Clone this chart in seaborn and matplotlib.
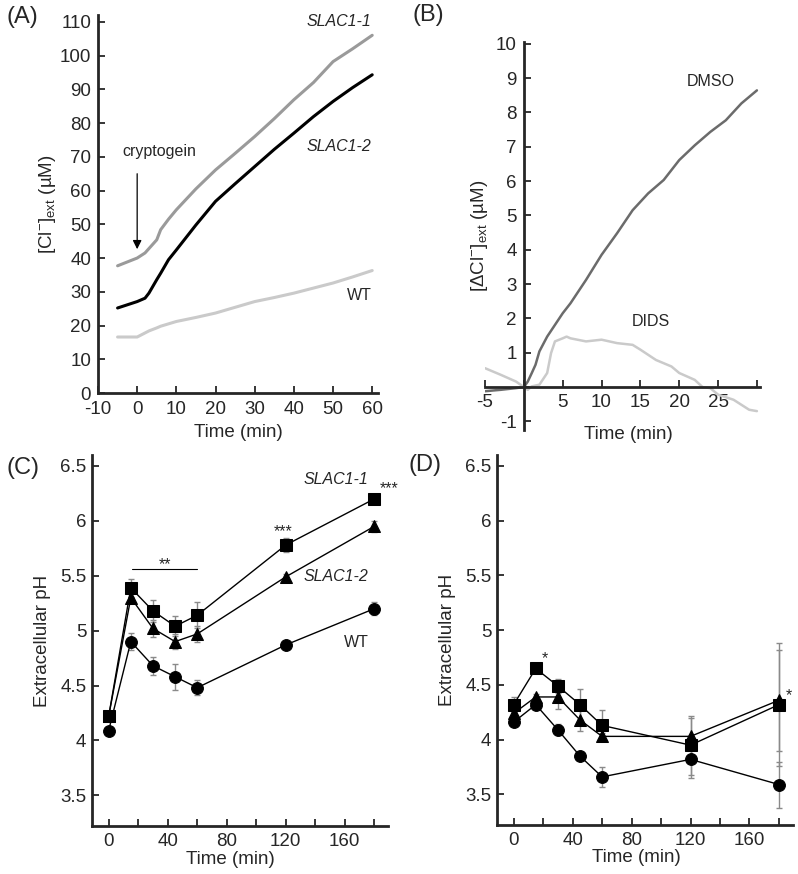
import matplotlib
matplotlib.use("Agg")
import matplotlib.pyplot as plt
import seaborn as sns
import pandas as pd

# ---- panel A: [Cl-]ext traces
a_time = [-5, 0, 2, 3, 5, 6, 8, 10, 15, 20, 25, 30, 35, 40, 45, 50, 55, 60]
a_slac1_1 = [37.7, 40.0, 41.5, 42.8, 45.4, 48.4, 51.5, 54.3, 60.5, 66.1, 71.0, 76.0, 81.3, 86.9, 92.0, 98.2, 102.0, 106.0]
a_slac1_2 = [25.2, 27.1, 28.1, 29.6, 33.6, 35.5, 39.5, 42.4, 49.8, 56.8, 62.0, 67.1, 72.2, 77.0, 81.9, 86.4, 90.5, 94.3]
a_wt = [16.6, 16.6, 17.8, 18.4, 19.3, 19.8, 20.5, 21.2, 22.4, 23.7, 25.4, 27.1, 28.3, 29.6, 31.1, 32.6, 34.4, 36.3]

# ---- panel B: delta [Cl-]ext
b_dmso_t = [-5, -3, -1, 0, 0.5, 1, 1.5, 2, 3, 4, 5, 6, 8, 10, 12, 14, 16, 18, 20, 22, 24, 26, 28, 30]
b_dmso = [-0.12, -0.08, -0.03, 0.0, 0.16, 0.40, 0.65, 1.04, 1.47, 1.81, 2.15, 2.44, 3.12, 3.85, 4.48, 5.15, 5.64, 6.03, 6.61, 7.04, 7.43, 7.77, 8.26, 8.64]
b_dids_t = [-5, -3, -1, 0, 0.5, 1, 2, 3, 3.5, 4, 5, 5.5, 6, 8, 10, 12, 14, 15, 17, 19, 20, 22, 23, 24, 25, 27, 29, 30]
b_dids = [0.55, 0.36, 0.16, 0.0, -0.08, 0.02, 0.07, 0.41, 0.99, 1.33, 1.42, 1.47, 1.42, 1.33, 1.38, 1.28, 1.23, 1.09, 0.79, 0.60, 0.41, 0.21, 0.0, -0.03, -0.22, -0.37, -0.66, -0.70]

# ---- panels C, D: extracellular pH
ph_time = [0, 15, 30, 45, 60, 120, 180]
c_slac1_1 = [4.22, 5.39, 5.18, 5.04, 5.14, 5.78, 6.20]
c_slac1_1_err = [0.0, 0.08, 0.10, 0.09, 0.12, 0.06, 0.03]
c_slac1_2 = [4.22, 5.30, 5.02, 4.90, 4.97, 5.49, 5.95]
c_slac1_2_err = [0.0, 0.05, 0.08, 0.07, 0.07, 0.03, 0.05]
c_wt = [4.09, 4.90, 4.68, 4.58, 4.48, 4.87, 5.20]
c_wt_err = [0.0, 0.08, 0.08, 0.12, 0.07, 0.02, 0.06]

d_slac1_1 = [4.32, 4.65, 4.49, 4.32, 4.13, 3.95, 4.32]
d_slac1_1_err = [0.07, 0.0, 0.06, 0.14, 0.14, 0.27, 0.56]
d_slac1_2 = [4.24, 4.39, 4.39, 4.18, 4.03, 4.03, 4.36]
d_slac1_2_err = [0.03, 0.03, 0.11, 0.10, 0.03, 0.17, 0.46]
d_wt = [4.16, 4.32, 4.09, 3.85, 3.66, 3.82, 3.59]
d_wt_err = [0.02, 0.04, 0.05, 0.02, 0.09, 0.17, 0.21]

sns.set_style("ticks")
plt.rcParams["font.family"] = ["Liberation Sans", "DejaVu Sans"]
plt.rcParams["mathtext.fontset"] = "custom"
plt.rcParams["mathtext.rm"] = "Liberation Sans"
plt.rcParams["mathtext.it"] = "Liberation Sans:italic"
plt.rcParams["axes.unicode_minus"] = False

fig = plt.figure(figsize=(7.98, 8.74), dpi=100)
axA = fig.add_axes([0.1228, 0.5503, 0.351, 0.4325])
axB = fig.add_axes([0.6078, 0.508, 0.3446, 0.444])
axC = fig.add_axes([0.1153, 0.0549, 0.3713, 0.4245])
axD = fig.add_axes([0.6228, 0.056, 0.3709, 0.4234])

TICK = 13.5
ANN = 11.5


def style_axis(ax, xpad=4, ypad=4):
    for s in ["top", "right"]:
        ax.spines[s].set_visible(False)
    for s in ["left", "bottom"]:
        ax.spines[s].set_linewidth(2.0)
    ax.tick_params(direction="in", length=5, width=1.3, labelsize=TICK, which="both")
    ax.tick_params(axis="x", pad=xpad)
    ax.tick_params(axis="y", pad=ypad)


# ---------- A
dfA = pd.DataFrame({"t": a_time * 3,
                    "v": a_slac1_1 + a_slac1_2 + a_wt,
                    "g": ["SLAC1-1"] * len(a_time) + ["SLAC1-2"] * len(a_time) + ["WT"] * len(a_time)})
sns.lineplot(data=dfA, x="t", y="v", hue="g", palette={"SLAC1-1": "#9a9a9a", "SLAC1-2": "black", "WT": "#cacaca"},
             linewidth=2.2, legend=False, ax=axA)
style_axis(axA, xpad=6, ypad=5)
axA.set_xlim(-10, 61.5)
axA.set_ylim(0, 112)
axA.set_xticks(range(-10, 61, 10))
axA.set_yticks(range(0, 111, 10))
axA.set_xlabel("Time (min)", fontsize=TICK)
axA.set_ylabel(r"[Cl$^{-}$]$_{\rm ext}$ (µM)", fontsize=TICK)
axA.yaxis.set_label_coords(-0.143, 0.5)
axA.text(51.4, 110, "SLAC1-1", style="italic", fontsize=ANN, ha="center", va="center")
axA.text(51.4, 73, "SLAC1-2", style="italic", fontsize=ANN, ha="center", va="center")
axA.text(56.6, 29, "WT", fontsize=ANN, ha="center", va="center")
axA.text(5.6, 71.6, "cryptogein", fontsize=ANN, ha="center", va="center")
axA.annotate("", xy=(0, 41.8), xytext=(0, 65.8),
             arrowprops=dict(arrowstyle="-|>", color="black", lw=0.9, mutation_scale=13))

# ---------- B
dfB = pd.DataFrame({"t": b_dmso_t + b_dids_t, "v": b_dmso + b_dids,
                    "g": ["DMSO"] * len(b_dmso_t) + ["DIDS"] * len(b_dids_t)})
sns.lineplot(data=dfB, x="t", y="v", hue="g", palette={"DMSO": "#6b6b6b", "DIDS": "#cacaca"},
             linewidth=1.8, legend=False, ax=axB)
style_axis(axB, xpad=5, ypad=5)
axB.spines["left"].set_position(("data", 0))
axB.spines["bottom"].set_position(("data", 0))
axB.set_xlim(-5, 30.4)
axB.set_ylim(-1.25, 10.05)
axB.set_xticks([-5, 0, 5, 10, 15, 20, 25, 30])
axB.set_xticklabels(["-5", "", "5", "10", "15", "20", "25", ""])
axB.set_yticks(range(-1, 11))
axB.set_yticklabels(["-1", ""] + [str(i) for i in range(1, 11)])
axB.set_xlabel("Time (min)", fontsize=TICK)
axB.xaxis.set_label_coords(0.52, 0.01)
axB.set_ylabel(r"[$\Delta$Cl$^{-}$]$_{\rm ext}$ (µM)", fontsize=TICK)
axB.yaxis.set_label_coords(0.018, 0.5)
axB.text(24, 8.9, "DMSO", fontsize=ANN, ha="center", va="center")
axB.text(16.3, 1.9, "DIDS", fontsize=ANN, ha="center", va="center")


# ---------- C, D
def ph_panel(ax, s1, e1, s2, e2, wt, ewt, xlab_x):
    n = len(ph_time)
    df = pd.DataFrame({"t": ph_time * 3, "v": wt + s2 + s1,
                       "g": ["WT"] * n + ["SLAC1-2"] * n + ["SLAC1-1"] * n})
    for vals, errs in [(wt, ewt), (s2, e2), (s1, e1)]:
        ax.errorbar(ph_time, vals, yerr=errs, fmt="none", ecolor="#8a8a8a", elinewidth=1.0, capsize=2.5, zorder=1)
    sns.lineplot(data=df, x="t", y="v", hue="g", style="g",
                 palette={"WT": "black", "SLAC1-2": "black", "SLAC1-1": "black"},
                 markers={"WT": "o", "SLAC1-2": "^", "SLAC1-1": "s"},
                 dashes=False, markersize=8.5, markeredgecolor="black", linewidth=1.0,
                 legend=False, ax=ax, zorder=3)
    style_axis(ax, xpad=5, ypad=4)
    ax.set_xlim(-11.3, 189.5)
    ax.set_ylim(3.22, 6.6)
    ax.set_xticks([0, 40, 80, 120, 160])
    ax.set_xticks([20, 60, 100, 140, 180], minor=True)
    ax.set_yticks([3.5, 4, 4.5, 5, 5.5, 6, 6.5])
    ax.set_yticklabels(["3.5", "4", "4.5", "5", "5.5", "6", "6.5"])
    ax.set_xlabel("Time (min)", fontsize=TICK)
    ax.xaxis.set_label_coords(xlab_x, -0.066)
    ax.set_ylabel("Extracellular pH", fontsize=TICK)
    ax.yaxis.set_label_coords(-0.139, 0.5)


ph_panel(axC, c_slac1_1, c_slac1_1_err, c_slac1_2, c_slac1_2_err, c_wt, c_wt_err, 0.466)
axC.text(154, 6.38, "SLAC1-1", style="italic", fontsize=ANN, ha="center", va="center")
axC.text(154, 5.49, "SLAC1-2", style="italic", fontsize=ANN, ha="center", va="center")
axC.text(168, 4.89, "WT", fontsize=ANN, ha="center", va="center")
axC.text(38, 5.60, "**", fontsize=ANN, ha="center", va="center")
axC.plot([16, 60], [5.56, 5.56], color="black", lw=0.8)
axC.text(118, 5.90, "***", fontsize=ANN, ha="center", va="center")
axC.text(190, 6.29, "***", fontsize=ANN, ha="center", va="center", clip_on=False)

ph_panel(axD, d_slac1_1, d_slac1_1_err, d_slac1_2, d_slac1_2_err, d_wt, d_wt_err, 0.47)
axD.text(21, 4.74, "*", fontsize=ANN, ha="center", va="center")
axD.text(186.5, 4.40, "*", fontsize=ANN, ha="center", va="center", clip_on=False)

# panel letters
for lab, x, y in [("(A)", 22, 17), ("(B)", 428, 15), ("(C)", 23, 468), ("(D)", 425, 465)]:
    fig.text(x / 798, 1 - y / 874, lab, fontsize=17, ha="center", va="center")

fig.savefig("out.png", dpi=100)
